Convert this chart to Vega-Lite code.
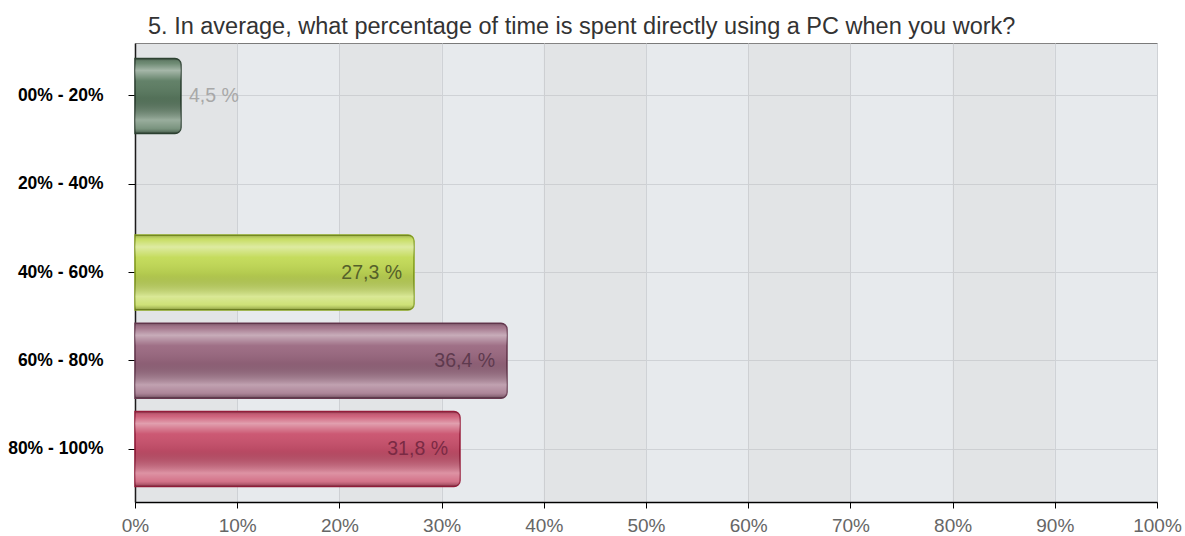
{
  "$schema": "https://vega.github.io/schema/vega-lite/v6.json",
  "width": 1022,
  "height": 459,
  "autosize": {"type": "none"},
  "padding": {"left": 135, "top": 43, "right": 28, "bottom": 34},
  "background": "white",
  "title": {
    "text": "5. In average, what percentage of time is spent directly using a PC when you work?",
    "anchor": "start",
    "frame": "group",
    "dx": 13,
    "dy": 24,
    "offset": 10,
    "baseline": "alphabetic",
    "font": "Liberation Sans",
    "fontSize": 23.5,
    "fontWeight": "normal",
    "color": "#333333"
  },
  "config": {
    "font": "Liberation Sans",
    "view": {"fill": "#e7eaed", "stroke": "#7a7a7a", "strokeWidth": 1},
    "axisX": {
      "domainColor": "#000000",
      "domainWidth": 1.5,
      "tickColor": "#000000",
      "tickSize": 6,
      "labelColor": "#666666",
      "labelFontSize": 19,
      "labelPadding": 8,
      "labelFlush": false,
      "gridColor": "#cfd2d6",
      "gridWidth": 1
    },
    "axisY": {
      "domainColor": "#000000",
      "domainWidth": 1.5,
      "tickColor": "#000000",
      "tickSize": 7,
      "labelColor": "#000000",
      "labelFontSize": 17.5,
      "labelFontWeight": "bold",
      "labelPadding": 25,
      "gridColor": "#cfd2d6",
      "gridWidth": 1
    }
  },
  "datasets": {
    "answers": [
      {"range": "00% - 20%", "pct": 4.5},
      {"range": "20% - 40%", "pct": 0},
      {"range": "40% - 60%", "pct": 27.3},
      {"range": "60% - 80%", "pct": 36.4},
      {"range": "80% - 100%", "pct": 31.8}
    ],
    "columns": [
      {"from": 0, "to": 10},
      {"from": 20, "to": 30},
      {"from": 40, "to": 50},
      {"from": 60, "to": 70},
      {"from": 80, "to": 90}
    ]
  },
  "layer": [
    {
      "data": {"name": "columns"},
      "mark": {"type": "rect", "fill": "#c9c2bd", "opacity": 0.14},
      "encoding": {
        "x": {"field": "from", "type": "quantitative", "title": null,
              "scale": {"domain": [0, 100]},
              "axis": {"values": [0, 10, 20, 30, 40, 50, 60, 70, 80, 90, 100], "labelExpr": "datum.value + '%'", "grid": true}},
        "x2": {"field": "to"}
      }
    },
    {
      "data": {"name": "answers"},
      "transform": [
        {"calculate": "replace(format(datum.pct, '.1f'), '.', ',') + ' %'", "as": "label"}
      ],
      "encoding": {
        "y": {
          "field": "range",
          "type": "nominal",
          "title": null,
          "sort": null,
          "scale": {"domain": ["00% - 20%", "20% - 40%", "40% - 60%", "60% - 80%", "80% - 100%"], "paddingInner": 0.15, "paddingOuter": 0.175},
          "axis": {"grid": true}
        },
        "x": {"field": "pct", "type": "quantitative", "title": null,
              "scale": {"domain": [0, 100]},
              "axis": {"values": [0, 10, 20, 30, 40, 50, 60, 70, 80, 90, 100], "labelExpr": "datum.value + '%'", "grid": true}}
      },
      "layer": [
        {
          "transform": [{"filter": "datum.pct > 0"}],
          "mark": {"type": "bar", "cornerRadiusEnd": 6, "strokeWidth": 1.5},
          "encoding": {
            "fill": {
              "field": "range", "type": "nominal", "legend": null,
              "scale": {"domain": ["00% - 20%", "40% - 60%", "60% - 80%", "80% - 100%"],
                        "range": ["#5b7b61", "#c2da55", "#9a6880", "#c9506c"]}
            },
            "stroke": {
              "field": "range", "type": "nominal", "legend": null,
              "scale": {"domain": ["00% - 20%", "40% - 60%", "60% - 80%", "80% - 100%"],
                        "range": ["#2f4434", "#8aa520", "#6a3a52", "#9a1e3c"]}
            }
          }
        },
        {
          "transform": [{"filter": "datum.pct > 0"}],
          "mark": {
            "type": "bar",
            "cornerRadiusEnd": 6,
            "fill": {
              "gradient": "linear",
              "x1": 0, "y1": 0, "x2": 0, "y2": 1,
              "stops": [
                {"offset": 0, "color": "rgba(0,0,0,0.25)"},
                {"offset": 0.06, "color": "rgba(255,255,255,0.1)"},
                {"offset": 0.16, "color": "rgba(255,255,255,0.45)"},
                {"offset": 0.3, "color": "rgba(255,255,255,0.05)"},
                {"offset": 0.52, "color": "rgba(0,0,0,0.08)"},
                {"offset": 0.82, "color": "rgba(255,255,255,0.38)"},
                {"offset": 0.93, "color": "rgba(255,255,255,0.2)"},
                {"offset": 1, "color": "rgba(0,0,0,0.3)"}
              ]
            }
          }
        },
        {
          "transform": [{"filter": "datum.pct >= 10"}],
          "mark": {"type": "text", "align": "right", "baseline": "middle", "dx": -12, "fontSize": 19.5},
          "encoding": {
            "text": {"field": "label"},
            "color": {
              "field": "range", "type": "nominal", "legend": null,
              "scale": {"domain": ["40% - 60%", "60% - 80%", "80% - 100%"],
                        "range": ["#55602a", "#5e3a4e", "#7a2a44"]}
            }
          }
        },
        {
          "transform": [{"filter": "datum.pct > 0 && datum.pct < 10"}],
          "mark": {"type": "text", "align": "left", "baseline": "middle", "dx": 8, "fontSize": 19.5, "color": "#a8a8a8"},
          "encoding": {
            "text": {"field": "label"}
          }
        }
      ]
    }
  ]
}
